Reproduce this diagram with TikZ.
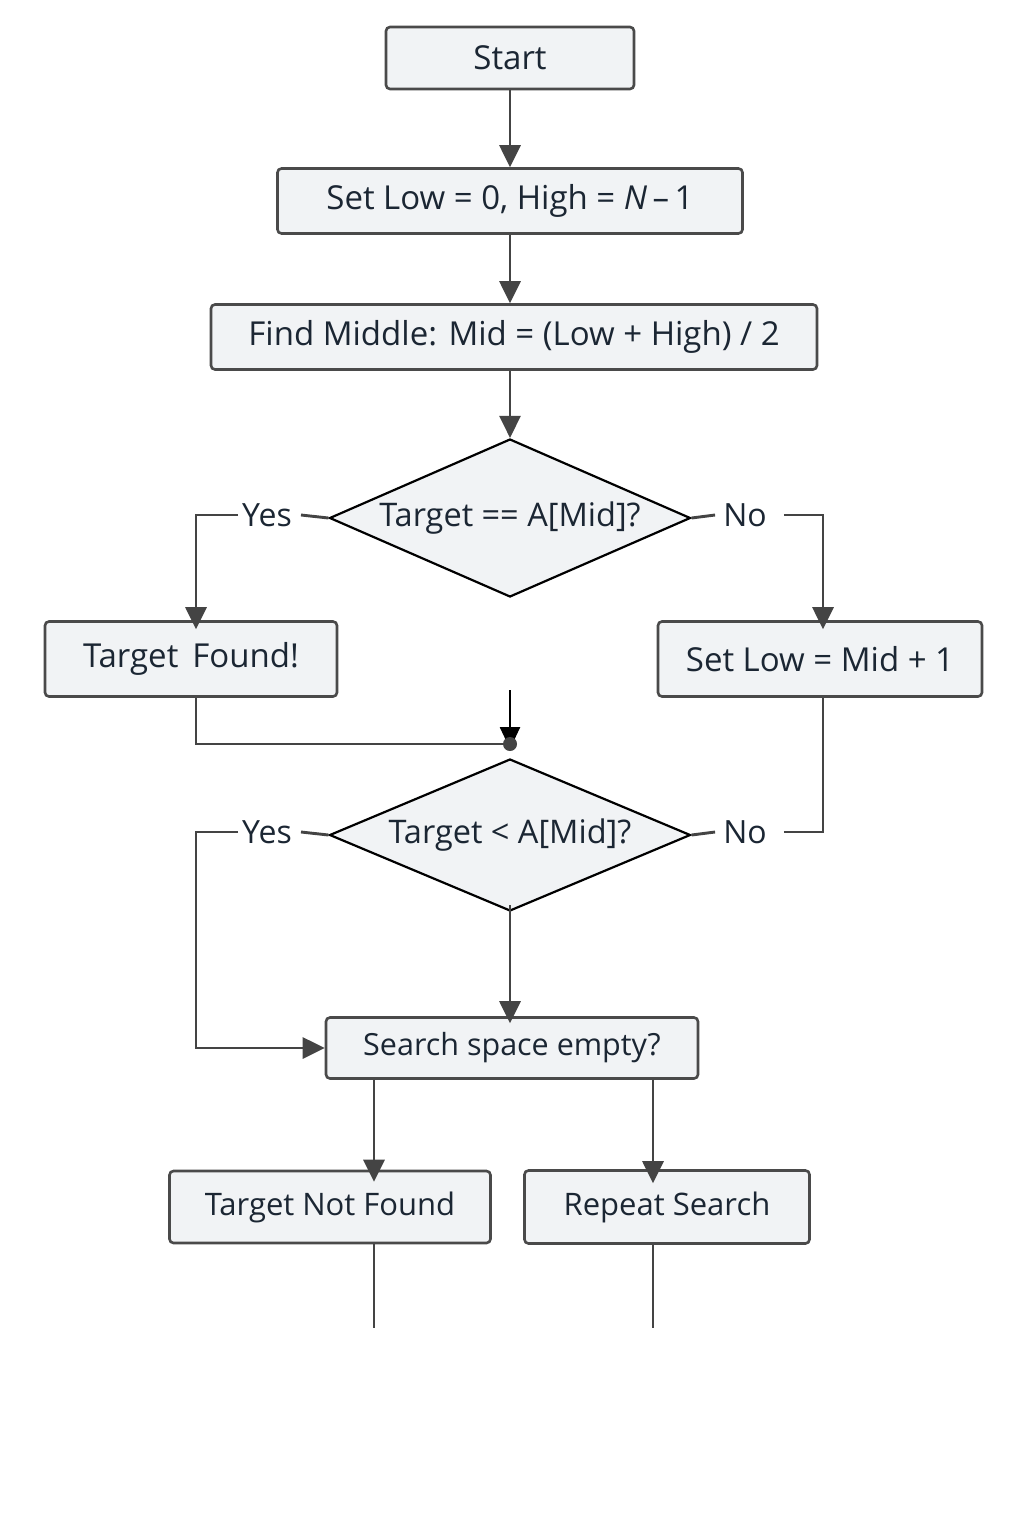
\documentclass[tikz,border=0pt]{standalone}
\usepackage{fontspec}
\setmainfont{Open Sans}
\usetikzlibrary{shapes.geometric,arrows.meta}
\definecolor{boxfill}{HTML}{F1F3F5}
\definecolor{boxline}{HTML}{4A4A4A}
\definecolor{txt}{HTML}{1B2633}
\definecolor{ln}{HTML}{444444}
\begin{document}
\begin{tikzpicture}[x=1pt,y=-1pt,
  every node/.style={text=txt},
  box/.style={draw=boxline,fill=boxfill,line width=2.6pt,rounded corners=4pt,inner sep=0pt,font=\fontsize{33}{38}\selectfont},
  sbox/.style={box,font=\fontsize{31}{36}\selectfont},
  dec/.style={diamond,aspect=2.28,draw=black,fill=boxfill,line width=2.2pt,inner sep=0pt,minimum width=361,minimum height=158,font=\fontsize{32.5}{38}\selectfont},
  lbl/.style={inner sep=0pt,font=\fontsize{32}{38}\selectfont},
  conn/.style={draw=ln,line width=2.9pt},
  arr/.style={conn,-{Triangle[width=21pt,length=22pt]}}]
\useasboundingbox (0,0) rectangle (1024,1536);
\fill[white] (0,0) rectangle (1024,1536);
\node[box,minimum width=248,minimum height=62] (start) at (510,58) {Start};
\node[box,minimum width=465,minimum height=65] (init) at (510,201) {Set Low = 0, High = \textit{N}\,–\,1};
\node[box,minimum width=606,minimum height=65] (mid) at (514,337) {Find Middle: Mid = (Low + High) / 2};
\node[dec] (d1) at (510,518) {Target == A[Mid]?};
\node[lbl] (y1) at (267,515) {Yes};
\node[lbl] (n1) at (745,515) {No};
\node[box,minimum width=292,minimum height=75] (found) at (191,659) {Target\ \,Found!};
\node[box,minimum width=324,minimum height=75] (low) at (820,659) {Set Low = Mid + 1};
\node[dec,minimum height=152] (d2) at (510,835) {Target < A[Mid]?};
\node[lbl] (y2) at (267,832) {Yes};
\node[lbl] (n2) at (745,832) {No};
\node[sbox,font=\fontsize{30.5}{36}\selectfont,minimum width=372,minimum height=61] (empty) at (512,1048) {Search space empty?};
\node[sbox,minimum width=321,minimum height=72] (notfound) at (330,1207) {Target Not Found};
\node[sbox,minimum width=285,minimum height=73] (repeat) at (667,1207) {Repeat Search};
\coordinate (dot) at (510,744);
\coordinate (dotin) at (510,690);
\coordinate (e1) at (374,1328);
\coordinate (e2) at (653,1328);
% connectors
\draw[arr] (start) -- (init);
\draw[arr] (init) -- (init |- mid.north);
\draw[arr] (init |- mid.south) -- (d1);
\draw[conn] (d1.west) -- ([xshift=9pt]y1.east);
\draw[arr] ([xshift=-4pt]y1.west) -| ([xshift=5pt,yshift=-9pt]found.north);
\draw[conn] (d1.east) -- ([xshift=-8pt]n1.west);
\draw[arr] ([xshift=17pt]n1.east) -| ([xshift=3pt,yshift=-9pt]low.north);
\draw[conn] ([xshift=5pt]found.south) |- (dot);
\draw[draw=black,line width=2.6pt,-{Triangle[width=20pt,length=22pt]}] (dotin) -- ([yshift=-5pt]dot);
\fill[ln] (dot) circle (7pt);
\draw[conn] (d2.west) -- ([xshift=9pt]y2.east);
\draw[arr] ([xshift=-4pt]y2.west) -| (196,1048) -- (empty.west);
\draw[conn] (d2.east) -- ([xshift=-8pt]n2.west);
\draw[conn] ([xshift=17pt]n2.east) -| ([xshift=3pt]low.south);
\draw[arr] ([yshift=7pt]d2.south) -- ([yshift=-7pt]empty.north -| d2.south);
\draw[arr] (empty.south -| e1) -- ([yshift=-12pt]notfound.north -| e1);
\draw[arr] (empty.south -| e2) -- ([yshift=-14pt]repeat.north -| e2);
\draw[conn] (notfound.south -| e1) -- (e1);
\draw[conn] (repeat.south -| e2) -- (e2);
\end{tikzpicture}
\end{document}
